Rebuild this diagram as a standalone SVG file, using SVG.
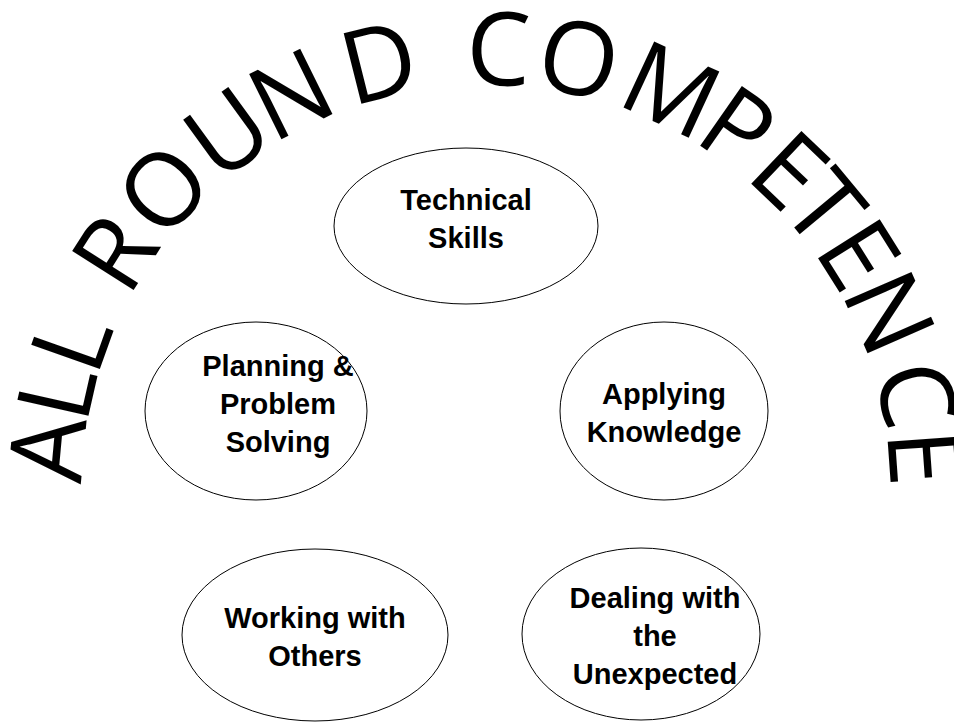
<svg xmlns="http://www.w3.org/2000/svg" width="954" height="724" viewBox="0 0 954 724">
  <style>
    .bg { fill: #ffffff; }
    .node ellipse { fill: #ffffff; stroke: #000000; stroke-width: 1; }
    .node text { font-family: "Liberation Sans", Arial, sans-serif; font-weight: bold; font-size: 29px; fill: #000000; text-anchor: middle; }
    .arc text { font-family: "Open Sans", "DejaVu Sans", sans-serif; font-weight: 400; font-size: 102px; fill: #000000; text-anchor: middle; }
  </style>

  <rect class="bg" x="0" y="0" width="954" height="724"/>

  <!-- Title set letter by letter on a circle: centre (486,489), baseline radius 404 -->
  <g id="title" class="arc">
    <text x="486" y="85" transform="rotate(-84.8 486 489)">A</text>
    <text x="486" y="85" transform="rotate(-77.2 486 489)">L</text>
    <text x="486" y="85" transform="rotate(-70.4 486 489)">L</text>
    <text x="486" y="85" transform="rotate(-57.5 486 489)">R</text>
    <text x="486" y="85" transform="rotate(-47.1 486 489)">O</text>
    <text x="486" y="85" transform="rotate(-36 486 489)">U</text>
    <text x="486" y="85" transform="rotate(-26.3 486 489)">N</text>
    <text x="486" y="85" transform="rotate(-14.1 486 489)">D</text>
    <text x="486" y="85" transform="rotate(1.6 486 489)">C</text>
    <text x="486" y="85" transform="rotate(12.2 486 489)">O</text>
    <text x="486" y="85" transform="rotate(24.9 486 489)">M</text>
    <text x="486" y="85" transform="rotate(34.9 486 489)">P</text>
    <text x="486" y="85" transform="rotate(43.6 486 489)">E</text>
    <text x="486" y="85" transform="rotate(50.3 486 489)">T</text>
    <text x="486" y="85" transform="rotate(57.8 486 489)">E</text>
    <text x="486" y="85" transform="rotate(66.4 486 489)">N</text>
    <text x="486" y="85" transform="rotate(77.6 486 489)">C</text>
    <text x="486" y="85" transform="rotate(85.9 486 489)">E</text>
  </g>

  <g id="technical-skills" class="node">
    <ellipse cx="466" cy="226" rx="132" ry="78"/>
    <text x="466" y="210">Technical</text>
    <text x="466" y="248">Skills</text>
  </g>

  <g id="planning-problem-solving" class="node">
    <ellipse cx="256" cy="411" rx="111" ry="89"/>
    <text x="278" y="376">Planning &amp;</text>
    <text x="278" y="414">Problem</text>
    <text x="278" y="452">Solving</text>
  </g>

  <g id="applying-knowledge" class="node">
    <ellipse cx="664" cy="411" rx="104" ry="89"/>
    <text x="664" y="404">Applying</text>
    <text x="664" y="442">Knowledge</text>
  </g>

  <g id="working-with-others" class="node">
    <ellipse cx="315" cy="635" rx="133" ry="86"/>
    <text x="315" y="628">Working with</text>
    <text x="315" y="666">Others</text>
  </g>

  <g id="dealing-with-unexpected" class="node">
    <ellipse cx="641" cy="634" rx="119" ry="86"/>
    <text x="655" y="608">Dealing with</text>
    <text x="655" y="646">the</text>
    <text x="655" y="684">Unexpected</text>
  </g>
</svg>
